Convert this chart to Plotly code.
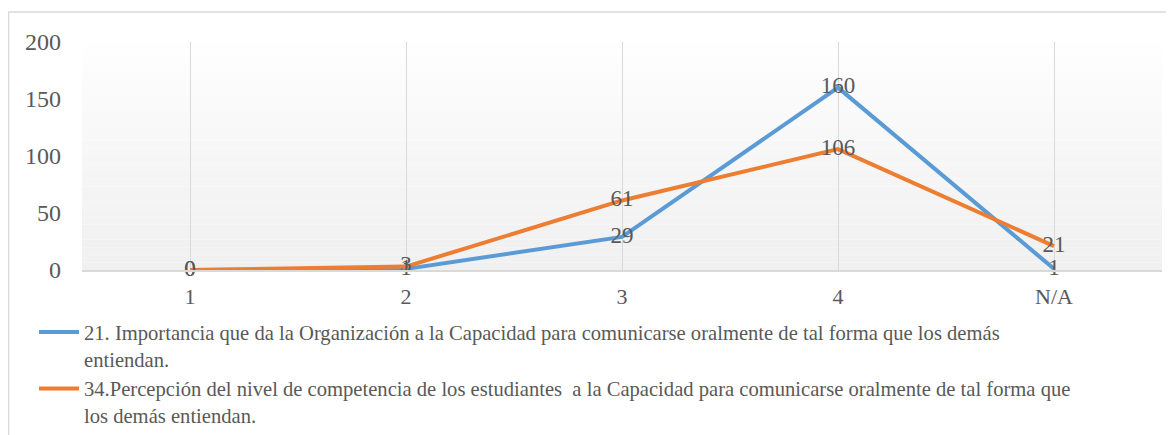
import plotly.graph_objects as go

categories = ["1", "2", "3", "4", "N/A"]
serie_21 = [0, 1, 29, 160, 1]
serie_34 = [0, 3, 61, 106, 21]
name_21 = ("21. Importancia que da la Organización a la Capacidad para comunicarse oralmente de tal forma que los demás"
           "<br>entiendan.")
name_34 = ("34.Percepción del nivel de competencia de los estudiantes  a la Capacidad para comunicarse oralmente de tal forma que"
           "<br>los demás entiendan.")
y_ticks = [0, 50, 100, 150, 200]

# page body has an 8px margin, so figure coords = screenshot coords - 8
OFF = 8
W, H = 1174 - OFF, 435 - OFF
L, T = 82 - OFF, 42 - OFF
R = W - (1162 - OFF)
B = H - (270 - OFF)
FONT = "Liberation Serif, Times New Roman, serif"
GREY = "#595959"

fig = go.Figure()
series = [(serie_21, name_21, "#5B9BD5"), (serie_34, name_34, "#ED7D31")]
for vals, name, color in series:
    fig.add_trace(go.Scatter(x=categories, y=vals, mode="lines", name=name,
                             line=dict(color=color, width=4), cliponaxis=False))
# data labels drawn above all lines
for vals, name, color in series:
    fig.add_trace(go.Scatter(x=categories, y=vals, mode="text", showlegend=False,
                             text=[str(v) for v in vals], textposition="middle center",
                             textfont=dict(family=FONT, size=23, color=GREY),
                             cliponaxis=False, hoverinfo="skip"))

pw, ph = W - L - R, H - T - B

def px_x(x):  # screenshot x -> paper
    return (x - OFF - L) / pw

def px_y(y):  # screenshot y -> paper
    return (T + ph - (y - OFF)) / ph

# gradient background bands
shapes = []
n = 30
for i in range(n):
    t = (i + 0.5) / n
    c = int(round(255 - (255 - 240) * (1 - t) ** 0.8))
    shapes.append(dict(type="rect", xref="paper", yref="paper", x0=0, x1=1,
                       y0=i / n, y1=(i + 1) / n, fillcolor=f"rgb({c},{c},{c})",
                       line=dict(width=0), layer="below"))
# outer chart border
shapes.append(dict(type="rect", xref="paper", yref="paper",
                   x0=px_x(8.5), x1=px_x(1172), y0=px_y(445), y1=px_y(12),
                   line=dict(color="#D9D9D9", width=1.5), fillcolor="rgba(0,0,0,0)", layer="below"))

fig.update_layout(
    width=W, height=H,
    margin=dict(l=L, r=R, t=T, b=B, autoexpand=False),
    paper_bgcolor="white", plot_bgcolor="rgba(0,0,0,0)",
    font=dict(family=FONT, color=GREY),
    shapes=shapes,
    showlegend=True,
    legend=dict(x=px_x(34), y=px_y(312), xanchor="left", yanchor="top",
                font=dict(family=FONT, size=20.6, color=GREY), bgcolor="rgba(0,0,0,0)",
                tracegroupgap=0, itemwidth=40, valign="top"),
)
fig.update_xaxes(type="category", categoryorder="array", categoryarray=categories,
                 range=[-0.5, 4.5], showgrid=True, gridcolor="#D9D9D9", gridwidth=1,
                 showline=True, linecolor="#D9D9D9", linewidth=1.5, ticks="",
                 ticklabelstandoff=6,
                 tickfont=dict(family=FONT, size=22, color=GREY), zeroline=False)
fig.update_yaxes(range=[0, 200], tickvals=y_ticks, showgrid=False, zeroline=False,
                 showline=False, ticks="", ticklabelstandoff=20,
                 tickfont=dict(family=FONT, size=24, color=GREY))

fig.write_html("out.html")
